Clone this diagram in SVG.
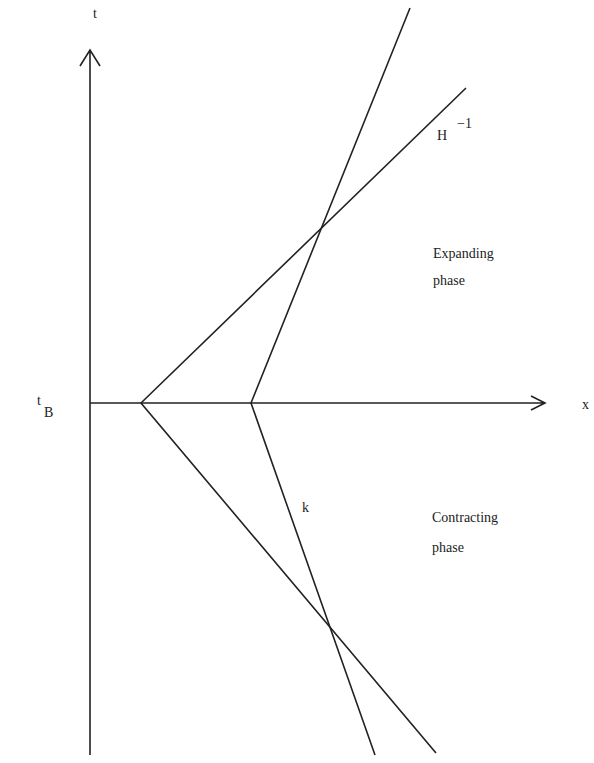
<svg xmlns="http://www.w3.org/2000/svg" width="594" height="763" viewBox="0 0 594 763">
<style>
.ln{stroke:#222;stroke-width:1.6;fill:none}
.t{font-family:"Liberation Serif","DejaVu Serif",serif;font-size:14px;fill:#222}
</style>
<rect width="594" height="763" fill="#fff"/>
<g id="axes">
<path class="ln" d="M90,755 V50 M80,66 L90,50 L100,66"/>
<path class="ln" d="M90,403 H545 M531,396 L545,403 L531,410"/>
</g>
<g id="connectors">
<path class="ln" d="M466,88 L141,403 L436,753"/>
<path class="ln" d="M410,8 L251,403 L375,755"/>
</g>
<g id="labels">
<text class="t" x="93" y="18">t</text>
<text class="t" x="437" y="140">H</text>
<text class="t" x="457" y="128">−1</text>
<text class="t" x="433" y="258">Expanding</text>
<text class="t" x="433" y="285">phase</text>
<text class="t" x="37" y="405" font-size="11">t</text>
<text class="t" x="44" y="417">B</text>
<text class="t" x="582" y="409">x</text>
<text class="t" x="302" y="512">k</text>
<text class="t" x="432" y="522">Contracting</text>
<text class="t" x="432" y="552">phase</text>
</g>
</svg>
